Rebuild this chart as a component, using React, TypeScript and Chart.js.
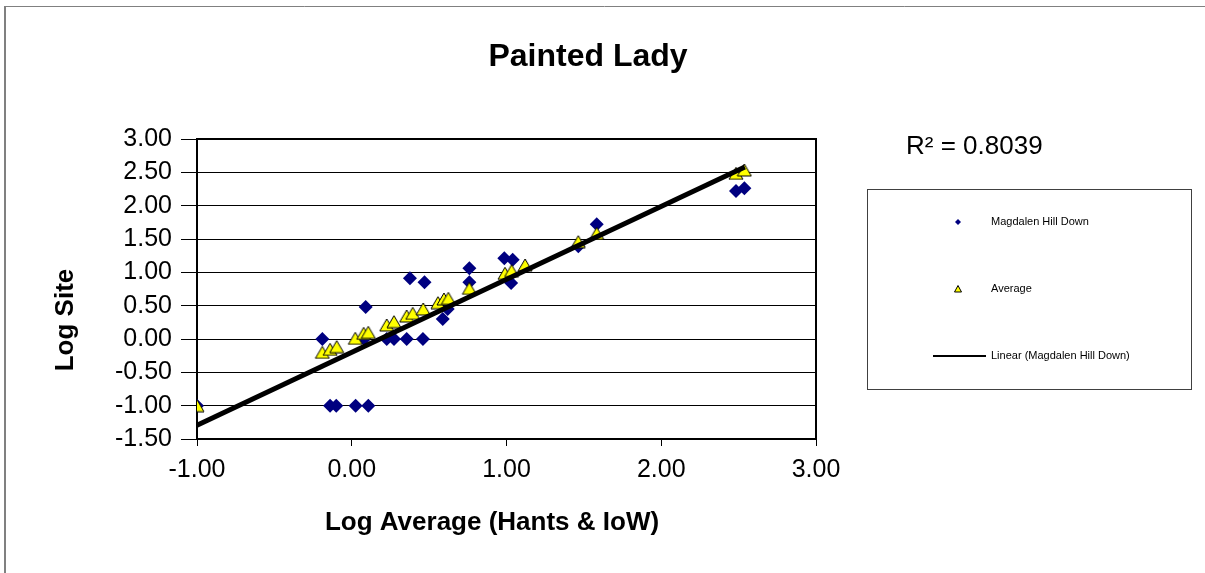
import React, { useEffect, useRef } from 'react';
import { Chart, registerables } from 'chart.js';

Chart.register(...registerables);

const chartTitle = 'Painted Lady';
const xAxisTitle = 'Log Average (Hants & IoW)';
const yAxisTitle = 'Log Site';
const rSquaredLabel = 'R² = 0.8039';
const seriesNames = ['Magdalen Hill Down', 'Average', 'Linear (Magdalen Hill Down)'];

// Magdalen Hill Down (blue diamonds)
const siteX = [-1.0, -0.19, -0.14, -0.1, 0.025, 0.107, 0.09, 0.08, 0.226, 0.273, 0.355, 0.46, 0.376, 0.47, 0.588, 0.62, 0.76, 0.76, 0.986, 1.04, 1.03, 1.464, 1.583, 2.483, 2.537];
const siteY = [-1.0, 0.0, -1.0, -1.0, -1.0, -1.0, 0.48, 0.0, 0.0, 0.0, 0.0, 0.0, 0.91, 0.85, 0.3, 0.45, 1.06, 0.85, 1.21, 1.19, 0.84, 1.39, 1.72, 2.22, 2.26];

// Average (yellow triangles)
const avgX = [-1.0, -0.19, -0.14, -0.097, 0.023, 0.077, 0.107, 0.226, 0.273, 0.355, 0.394, 0.462, 0.557, 0.596, 0.624, 0.76, 0.99, 1.033, 1.12, 1.464, 1.583, 2.483, 2.537];
const avgY = [-1.0, -0.2, -0.155, -0.115, 0.01, 0.085, 0.1, 0.21, 0.26, 0.345, 0.385, 0.45, 0.545, 0.6, 0.61, 0.76, 0.985, 1.025, 1.11, 1.46, 1.585, 2.485, 2.535];

// Linear trend line (Magdalen Hill Down)
const trendSlope = 1.095;
const trendIntercept = -0.2;
const trendXRange = [-1.0, 2.54];

const xMin = -1;
const xMax = 3;
const xStep = 1;
const yMin = -1.5;
const yMax = 3;
const yStep = 0.5;

const FONT = "'Liberation Sans', Arial, sans-serif";

function makeTriangle(w: number, h: number): HTMLCanvasElement {
  const c = document.createElement('canvas');
  c.width = w + 2;
  c.height = h + 2;
  const g = c.getContext('2d')!;
  g.beginPath();
  g.moveTo((w + 2) / 2, 1);
  g.lineTo(w + 1, h + 1);
  g.lineTo(1, h + 1);
  g.closePath();
  g.fillStyle = '#FFFF00';
  g.fill();
  g.lineWidth = 1;
  g.strokeStyle = '#000000';
  g.stroke();
  return c;
}

const decorPlugin = {
  id: 'decor',
  beforeDraw(chart: any) {
    const ctx = chart.ctx;
    ctx.save();
    ctx.fillStyle = '#ffffff';
    ctx.fillRect(0, 0, chart.width, chart.height);
    ctx.restore();
  },
  beforeDatasetsDraw(chart: any) {
    const ctx = chart.ctx;
    const a = chart.chartArea;
    ctx.save();
    ctx.strokeStyle = '#000000';
    ctx.lineWidth = 2;
    ctx.strokeRect(a.left, a.top, a.right - a.left, a.bottom - a.top);
    ctx.restore();
  },
  afterDraw(chart: any) {
    const ctx = chart.ctx;
    ctx.save();
    ctx.fillStyle = '#000000';
    // title
    ctx.font = `bold 32px ${FONT}`;
    ctx.textAlign = 'center';
    ctx.textBaseline = 'alphabetic';
    ctx.fillText(chartTitle, 588, 66);
    // x axis title
    ctx.font = `bold 26px ${FONT}`;
    ctx.fillText(xAxisTitle, 492, 530);
    // y axis title
    ctx.save();
    ctx.translate(73, 320);
    ctx.rotate(-Math.PI / 2);
    ctx.fillText(yAxisTitle, 0, 0);
    ctx.restore();
    // R squared
    ctx.font = `26px ${FONT}`;
    ctx.textAlign = 'left';
    ctx.fillText(rSquaredLabel, 906, 154);
    // legend box
    ctx.strokeStyle = '#404040';
    ctx.lineWidth = 1;
    ctx.strokeRect(867.5, 189.5, 324, 200);
    ctx.font = `11px ${FONT}`;
    ctx.textBaseline = 'middle';
    ctx.fillStyle = '#000000';
    ctx.fillText(seriesNames[0], 991, 222);
    ctx.fillText(seriesNames[1], 991, 289);
    ctx.fillText(seriesNames[2], 991, 356);
    // legend diamond
    ctx.fillStyle = '#000080';
    ctx.beginPath();
    ctx.moveTo(958, 219);
    ctx.lineTo(961, 222);
    ctx.lineTo(958, 225);
    ctx.lineTo(955, 222);
    ctx.closePath();
    ctx.fill();
    // legend triangle
    ctx.fillStyle = '#FFFF00';
    ctx.strokeStyle = '#000000';
    ctx.beginPath();
    ctx.moveTo(958, 285.5);
    ctx.lineTo(961.5, 292);
    ctx.lineTo(954.5, 292);
    ctx.closePath();
    ctx.fill();
    ctx.stroke();
    // legend line
    ctx.strokeStyle = '#000000';
    ctx.lineWidth = 2;
    ctx.beginPath();
    ctx.moveTo(933, 356);
    ctx.lineTo(986, 356);
    ctx.stroke();
    // outer border
    ctx.strokeStyle = '#808080';
    ctx.lineWidth = 2;
    ctx.beginPath();
    ctx.moveTo(5, 573);
    ctx.lineTo(5, 6.5);
    ctx.stroke();
    ctx.lineWidth = 1;
    ctx.beginPath();
    ctx.moveTo(4, 6.5);
    ctx.lineTo(1205, 6.5);
    ctx.stroke();
    ctx.restore();
  },
};

export default function App() {
  const canvasRef = useRef<HTMLCanvasElement | null>(null);

  useEffect(() => {
    document.body.style.margin = '0';
    const canvas = canvasRef.current;
    if (!canvas) return;
    const tri = makeTriangle(14, 12);

    const sitePoints = siteX.map((x, i) => ({ x, y: siteY[i] }));
    const avgPoints = avgX.map((x, i) => ({ x, y: avgY[i] }));
    const trendPoints = trendXRange.map((x) => ({ x, y: trendSlope * x + trendIntercept }));

    const chart = new Chart(canvas, {
      type: 'scatter',
      data: {
        datasets: [
          {
            label: seriesNames[2],
            type: 'line',
            data: trendPoints,
            borderColor: '#000000',
            borderWidth: 5,
            pointRadius: 0,
            fill: false,
            showLine: true,
            order: 0,
          } as any,
          {
            label: seriesNames[1],
            data: avgPoints,
            pointStyle: tri,
            pointRadius: 7,
            order: 1,
          } as any,
          {
            label: seriesNames[0],
            data: sitePoints,
            pointStyle: 'rectRot',
            pointRadius: 7,
            backgroundColor: '#000080',
            borderColor: '#000080',
            borderWidth: 0,
            order: 2,
          } as any,
        ],
      },
      options: {
        responsive: false,
        animation: false,
        devicePixelRatio: 1,
        layout: { padding: { left: 0, top: 139, right: 389, bottom: 74 } },
        plugins: {
          legend: { display: false },
          title: { display: false },
          tooltip: { enabled: false },
        },
        scales: {
          x: {
            type: 'linear',
            min: xMin,
            max: xMax,
            afterFit: (s: any) => {
              s.height = 60;
            },
            ticks: {
              stepSize: xStep,
              callback: (v: any) => Number(v).toFixed(2),
              font: { family: FONT, size: 25 },
              color: '#000000',
              padding: 9,
              maxRotation: 0,
            },
            grid: {
              drawOnChartArea: false,
              drawTicks: true,
              tickLength: 7,
              color: '#000000',
              lineWidth: 1,
            },
            border: { display: true, color: '#000000', width: 2 },
          },
          y: {
            type: 'linear',
            min: yMin,
            max: yMax,
            afterFit: (s: any) => {
              s.width = 197;
            },
            ticks: {
              stepSize: yStep,
              callback: (v: any) => Number(v).toFixed(2),
              font: { family: FONT, size: 25 },
              color: '#000000',
              padding: 9,
            },
            grid: {
              drawOnChartArea: true,
              drawTicks: true,
              tickLength: 16,
              color: '#000000',
              lineWidth: 1,
            },
            border: { display: true, color: '#000000', width: 2 },
          },
        },
      },
      plugins: [decorPlugin],
    });
    return () => chart.destroy();
  }, []);

  return (
    <div style={{ width: 1205, height: 573 }}>
      <canvas ref={canvasRef} width={1205} height={573} style={{ display: 'block', width: 1205, height: 573 }} />
    </div>
  );
}
